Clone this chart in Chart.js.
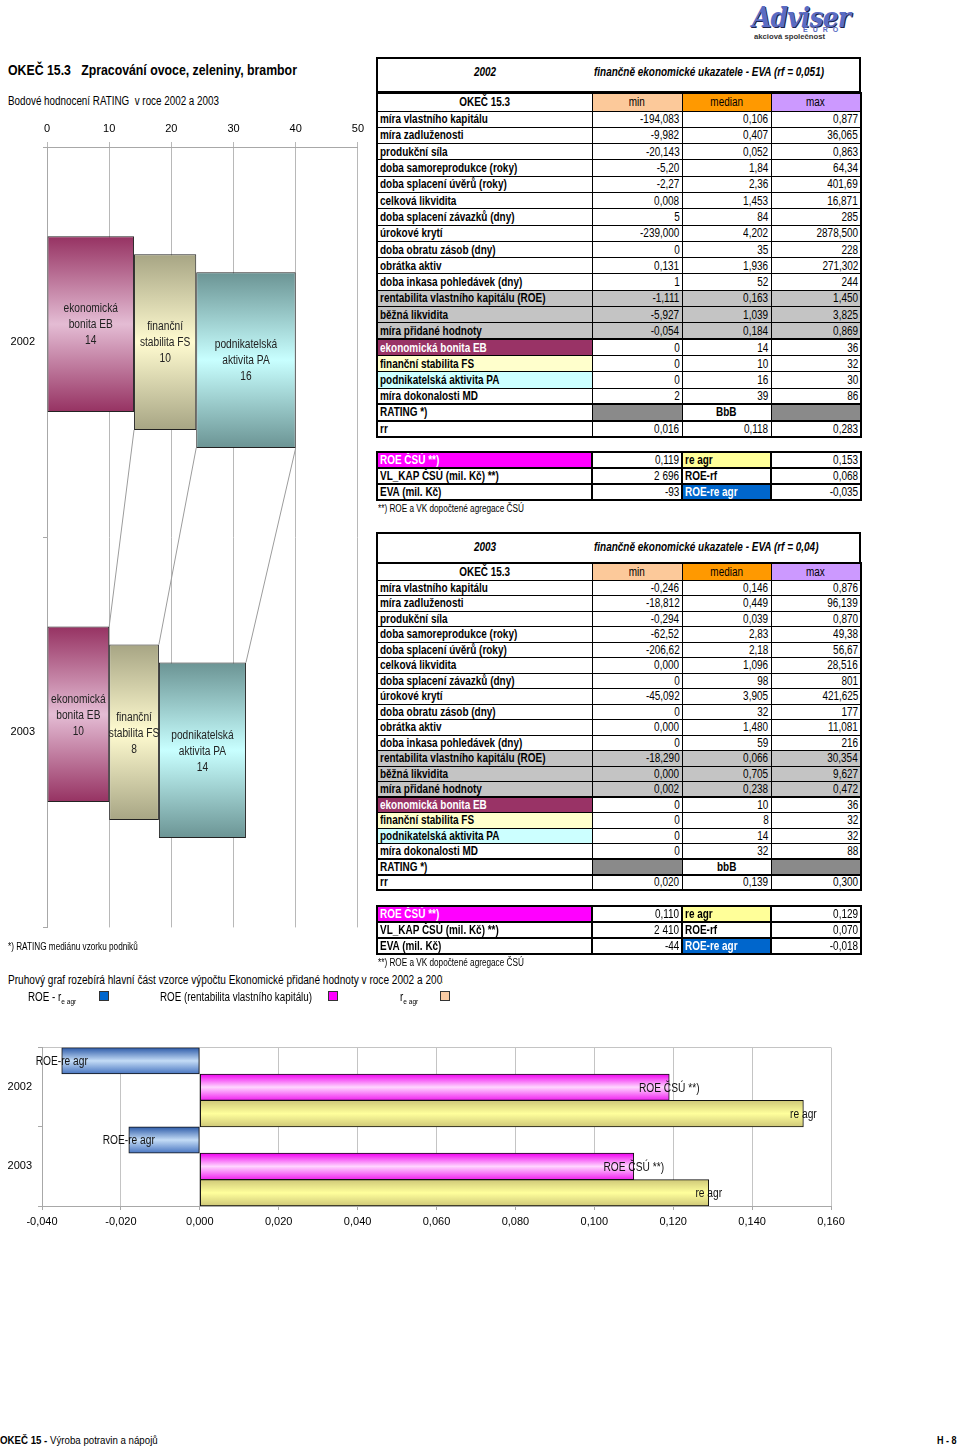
<!DOCTYPE html>
<html lang="cs">
<head>
<meta charset="utf-8">
<script src="https://cdn.jsdelivr.net/npm/chart.js@4.4.1/dist/chart.umd.min.js"></script>
<style>
body{margin:0;background:#fff;}
#page{position:relative;width:960px;height:1448px;overflow:hidden;font-family:"Liberation Sans Narrow","Arial Narrow","Liberation Sans",Arial,sans-serif;color:#000;}
.abs{position:absolute;white-space:nowrap;line-height:1;transform:scaleX(.82);transform-origin:0 0;}
canvas{position:absolute;}
table{position:absolute;border-collapse:collapse;table-layout:fixed;border:2px solid #000;}
td{border:1px solid #000;padding:0 2px;font-size:12px;overflow:hidden;white-space:nowrap;line-height:1;}
td .n{display:inline-block;transform:scaleX(.83);}
td.l{font-weight:bold;text-align:left;}
td.l .n{transform-origin:0 50%;}
td.v{text-align:right;}
td.v .n{transform-origin:100% 50%;}
td.c{text-align:center;}
td.c .n{transform-origin:50% 50%;}
tr.tk td{border-top:2px solid #000;}
tr.g td{background:#c4c4c4;}
.small td{border:2px solid #000;}
.hbox{position:absolute;border:2px solid #000;box-sizing:border-box;}
.hbox span{position:absolute;font-weight:bold;font-style:italic;font-size:12px;top:6px;white-space:nowrap;transform:scaleX(.83);transform-origin:0 0;}
.sq{position:absolute;width:8px;height:8px;border:1px solid #333;}
</style>
</head>
<body>
<div id="page">
  <div class="abs" style="left:752px;top:2px;font:italic bold 27px 'DejaVu Serif',serif;color:#5a6cc4;letter-spacing:-1px;text-shadow:1px 1px 0 #1c2450;transform:scaleX(.93);">Adviser</div>
  <div class="abs" style="left:803px;top:26px;font:bold 7px Arial,sans-serif;color:#5a6cc4;letter-spacing:5px;transform:none;">EURO</div>
  <div class="abs" style="left:754px;top:33px;font:bold 7px Arial,sans-serif;color:#333;transform:scaleX(1.1);">akciová společnost</div>

  <div class="abs" style="left:8px;top:62px;font-size:15px;font-weight:bold;">OKEČ 15.3&nbsp;&nbsp;&nbsp;Zpracování ovoce, zeleniny, brambor</div>
  <div class="abs" style="left:8px;top:95px;font-size:12px;">Bodové hodnocení RATING&nbsp; v roce 2002 a 2003</div>

  <canvas id="ratingChart" width="370" height="830" style="left:0;top:112px;"></canvas>

  <div class="abs" style="left:8px;top:942px;font-size:10px;">*) RATING mediánu vzorku podniků</div>
  <div style="position:absolute;left:8px;top:974px;width:435px;height:15px;overflow:hidden;">
    <div class="abs" style="left:0;top:0;font-size:12px;transform:scaleX(.84);">Pruhový graf rozebírá hlavní část vzorce výpočtu Ekonomické přidané hodnoty v roce 2002 a 2003</div>
  </div>
  <div class="abs" style="left:28px;top:991px;font-size:12px;">ROE - r<sub style="font-size:8px;">e agr</sub></div>
  <div class="sq" style="left:99px;top:991px;background:#0066cc;"></div>
  <div class="abs" style="left:160px;top:991px;font-size:12px;">ROE (rentabilita vlastního kapitálu)</div>
  <div class="sq" style="left:328px;top:991px;background:#ff00ff;"></div>
  <div class="abs" style="left:400px;top:991px;font-size:12px;">r<sub style="font-size:8px;">e agr</sub></div>
  <div class="sq" style="left:440px;top:991px;background:#f9cba4;"></div>

  <canvas id="evaChart" width="860" height="200" style="left:0;top:1035px;"></canvas>

  <div class="abs" style="left:0;top:1435px;font-size:11px;transform:scaleX(.88);"><b>OKEČ 15 -</b> Výroba potravin a nápojů</div>
  <div class="abs" style="left:937px;top:1435px;font-size:11px;font-weight:bold;">H - 8</div>
</div>

<script>
// hodnoty grafu RATING
const years = ['2002', '2003'];
const ratingParts = [['ekonomická', 'bonita EB'], ['finanční', 'stabilita FS'], ['podnikatelská', 'aktivita PA']];
const ratingEB = [14, 10];
const ratingFS = [10, 8];
const ratingPA = [16, 14];
const ratingMin = 0, ratingMax = 50, ratingStep = 10;

// hodnoty pruhoveho grafu EVA
const evaSeries = ['ROE-re agr', 'ROE ČSÚ **)', 're agr'];
const roeMinusRe = [-0.035, -0.018];
const roeCsu = [0.119, 0.110];
const reAgr = [0.153, 0.129];
const evaMin = -0.04, evaMax = 0.16, evaStep = 0.02;

// tabulky
const rowLabels = ['míra vlastního kapitálu', 'míra zadluženosti', 'produkční síla', 'doba samoreprodukce (roky)',
  'doba splacení úvěrů (roky)', 'celková likvidita', 'doba splacení závazků (dny)', 'úrokové krytí',
  'doba obratu zásob (dny)', 'obrátka aktiv', 'doba inkasa pohledávek (dny)', 'rentabilita vlastního kapitálu (ROE)',
  'běžná likvidita', 'míra přidané hodnoty', 'ekonomická bonita EB', 'finanční stabilita FS',
  'podnikatelská aktivita PA', 'míra dokonalosti MD', 'RATING *)', 'rr'];
const min2002 = ['-194,083', '-9,982', '-20,143', '-5,20', '-2,27', '0,008', '5', '-239,000', '0', '0,131', '1',
  '-1,111', '-5,927', '-0,054', '0', '0', '0', '2', '', '0,016'];
const med2002 = ['0,106', '0,407', '0,052', '1,84', '2,36', '1,453', '84', '4,202', '35', '1,936', '52',
  '0,163', '1,039', '0,184', '14', '10', '16', '39', 'BbB', '0,118'];
const max2002 = ['0,877', '36,065', '0,863', '64,34', '401,69', '16,871', '285', '2878,500', '228', '271,302', '244',
  '1,450', '3,825', '0,869', '36', '32', '30', '86', '', '0,283'];
const min2003 = ['-0,246', '-18,812', '-0,294', '-62,52', '-206,62', '0,000', '0', '-45,092', '0', '0,000', '0',
  '-18,290', '0,000', '0,002', '0', '0', '0', '0', '', '0,020'];
const med2003 = ['0,146', '0,449', '0,039', '2,83', '2,18', '1,096', '98', '3,905', '32', '1,480', '59',
  '0,066', '0,705', '0,238', '10', '8', '14', '32', 'bbB', '0,139'];
const max2003 = ['0,876', '96,139', '0,870', '49,38', '56,67', '28,516', '801', '421,625', '177', '11,081', '216',
  '30,354', '9,627', '0,472', '36', '32', '32', '88', '', '0,300'];
const small2002 = ['0,119', '0,153', '2 696', '0,068', '-93', '-0,035'];
const small2003 = ['0,110', '0,129', '2 410', '0,070', '-44', '-0,018'];

const page = document.getElementById('page');
const colW = [215, 90, 89, 90];

function colgroup() {
  return '<colgroup>' + colW.map(w => `<col style="width:${w}px">`).join('') + '</colgroup>';
}
const n = s => `<span class="n">${s}</span>`;

function buildBlock(o) {
  const box = document.createElement('div');
  box.className = 'hbox';
  box.style.cssText = `left:376px;top:${o.boxTop}px;width:485px;height:${o.boxH}px;`;
  box.innerHTML = `<span style="left:96px;">${o.year}</span><span style="left:216px;">${o.title}</span>`;
  page.appendChild(box);

  let h = `<table style="left:376px;top:${o.top}px;width:485px;">` + colgroup();
  h += `<tr style="height:${o.headH}px"><td class="l c">${n('OKEČ 15.3')}</td><td class="c" style="background:#fcc99a">${n('min')}</td>` +
    `<td class="c" style="background:#ff9900">${n('median')}</td><td class="c" style="background:#cc99ff">${n('max')}</td></tr>`;
  rowLabels.forEach((lab, i) => {
    let cls = '';
    if (i >= 11 && i <= 13) cls = 'g';
    if (i === 14 || i === 18 || i === 19) cls += ' tk';
    let ls = '';
    if (i === 14) ls = 'background:#993366;color:#fff;';
    if (i === 15) ls = 'background:#ffffcc;';
    if (i === 16) ls = 'background:#ccffff;';
    if (i === 18) {
      h += `<tr class="${cls}" style="height:${o.rowH}px"><td class="l">${n(lab)}</td><td style="background:#8a8a8a"></td>` +
        `<td class="c" style="font-weight:bold">${n(o.med[i])}</td><td style="background:#8a8a8a"></td></tr>`;
    } else {
      h += `<tr class="${cls}" style="height:${o.rowH}px"><td class="l" style="${ls}">${n(lab)}</td>` +
        `<td class="v">${n(o.min[i])}</td><td class="v">${n(o.med[i])}</td><td class="v">${n(o.max[i])}</td></tr>`;
    }
  });
  h += '</table>';

  const s = o.small;
  h += `<table class="small" style="left:376px;top:${o.smallTop}px;width:485px;">` + colgroup() +
    `<tr style="height:16px"><td class="l" style="background:#ff00ff;color:#fff">${n('ROE ČSÚ **)')}</td><td class="v">${n(s[0])}</td>` +
    `<td class="l" style="background:#ffff99">${n('re agr')}</td><td class="v">${n(s[1])}</td></tr>` +
    `<tr style="height:16px"><td class="l">${n('VL_KAP ČSÚ (mil. Kč) **)')}</td><td class="v">${n(s[2])}</td>` +
    `<td class="l">${n('ROE-rf')}</td><td class="v">${n(s[3])}</td></tr>` +
    `<tr style="height:16px"><td class="l">${n('EVA (mil. Kč)')}</td><td class="v">${n(s[4])}</td>` +
    `<td class="l" style="background:#0066cc;color:#fff">${n('ROE-re agr')}</td><td class="v">${n(s[5])}</td></tr></table>`;
  h += `<div class="abs" style="left:378px;top:${o.smallTop + 53}px;font-size:10px;">**) ROE a VK dopočtené agregace ČSÚ</div>`;
  page.insertAdjacentHTML('beforeend', h);
}

buildBlock({ boxTop: 57, boxH: 36, top: 92, headH: 18, rowH: 16.3, year: '2002',
  title: 'finančně ekonomické ukazatele - EVA (rf = 0,051)', min: min2002, med: med2002, max: max2002,
  small: small2002, smallTop: 451 });
buildBlock({ boxTop: 532, boxH: 32, top: 562, headH: 17, rowH: 15.5, year: '2003',
  title: 'finančně ekonomické ukazatele - EVA (rf = 0,04)', min: min2003, med: med2003, max: max2003,
  small: small2003, smallTop: 905 });

// prechod barvy pres vysku pruhu (tmavy okraj, svetly stred)
function grad(c, stops, top, bottom) {
  const g = c.chart.ctx.createLinearGradient(0, top, 0, bottom);
  g.addColorStop(0, stops[0]);
  g.addColorStop(0.5, stops[1]);
  g.addColorStop(1, stops[2]);
  return g;
}

// uzsi text na platne (puvodni pismo je Arial Narrow)
function narrowText(ctx, t, x, y) {
  ctx.save();
  ctx.translate(x, y);
  ctx.scale(0.85, 1);
  ctx.fillText(t, 0, 0);
  ctx.restore();
}

// RATING - skladany pruh, kazda cast posunuta dolu (3D dojem)
const depth = [-18, 0, 18];
const ratingThick = 0.45;
function ratingFill(stops) {
  return c => {
    const area = c.chart.chartArea;
    if (!area || c.type !== 'data') return stops[1];
    const band = (area.bottom - area.top) / years.length;
    const mid = c.chart.scales.y.getPixelForValue(c.dataIndex);
    return grad(c, stops, mid - band * ratingThick / 2, mid + band * ratingThick / 2);
  };
}

const ratingDecor = {
  id: 'ratingDecor',
  beforeDatasetsDraw(chart) {
    const ctx = chart.ctx;
    ctx.save();
    ctx.strokeStyle = '#9c9c9c';
    ctx.lineWidth = 1;
    for (let d = 0; d < 3; d++) {
      const a = chart.getDatasetMeta(Math.min(d + 1, 2)).data[0];
      const own = chart.getDatasetMeta(d).data;
      const b = own[1];
      ctx.beginPath();
      ctx.moveTo(own[0].x, a.y + a.height / 2 + depth[Math.min(d + 1, 2)]);
      ctx.lineTo(b.x, b.y - b.height / 2 + depth[d]);
      ctx.stroke();
    }
    ctx.restore();
  },
  beforeDatasetDraw(chart, args) {
    chart.ctx.save();
    chart.ctx.translate(0, depth[args.index]);
  },
  afterDatasetDraw(chart) {
    chart.ctx.restore();
  },
  afterDatasetsDraw(chart) {
    const ctx = chart.ctx;
    ctx.save();
    ctx.fillStyle = '#222';
    ctx.font = '12px "Liberation Sans", Arial, sans-serif';
    ctx.textAlign = 'center';
    ctx.textBaseline = 'middle';
    chart.data.datasets.forEach((ds, d) => {
      chart.getDatasetMeta(d).data.forEach((el, i) => {
        const lines = ratingParts[d].concat(String(ds.data[i]));
        const cx = (el.x + el.base) / 2;
        const cy = el.y + depth[d] + 1;
        lines.forEach((t, k) => narrowText(ctx, t, cx, cy + (k - (lines.length - 1) / 2) * 16));
      });
    });
    ctx.restore();
  }
};

const axisFont = { family: '"Liberation Sans", Arial, sans-serif', size: 11 };

new Chart(document.getElementById('ratingChart'), {
  type: 'bar',
  data: {
    labels: years,
    datasets: [
      { label: 'ekonomická bonita EB', data: ratingEB, backgroundColor: ratingFill(['#963262', '#e4bcd4', '#963262']) },
      { label: 'finanční stabilita FS', data: ratingFS, backgroundColor: ratingFill(['#a7a584', '#fffbd0', '#a7a584']) },
      { label: 'podnikatelská aktivita PA', data: ratingPA, backgroundColor: ratingFill(['#6b9494', '#c8ffff', '#6b9494']) }
    ]
  },
  options: {
    indexAxis: 'y',
    responsive: false,
    animation: false,
    layout: { padding: { left: 0, right: 11, top: 0, bottom: 8 } },
    datasets: { bar: { categoryPercentage: 0.9, barPercentage: 0.5, borderColor: '#222', borderWidth: 1, borderSkipped: false } },
    plugins: { legend: { display: false }, tooltip: { enabled: false } },
    scales: {
      x: {
        position: 'top', stacked: true, min: ratingMin, max: ratingMax,
        ticks: { stepSize: ratingStep, color: '#000', font: axisFont, padding: 6 },
        grid: { color: '#b8b8b8', tickLength: 5 },
        border: { color: '#a8a8a8' },
        afterFit: s => { s.height = 35; }
      },
      y: {
        stacked: true,
        ticks: { color: '#000', font: axisFont, padding: 8 },
        grid: { color: c => c.index === years.length ? '#a8a8a8' : 'transparent', tickColor: '#a8a8a8', tickLength: 4 },
        border: { color: '#a8a8a8' },
        afterFit: s => { s.width = 47; }
      }
    }
  },
  plugins: [ratingDecor]
});

// EVA - seskupene vodorovne pruhy
function evaFill(stops) {
  return c => {
    const area = c.chart.chartArea;
    if (!area || c.type !== 'data') return stops[1];
    const band = (area.bottom - area.top) / years.length;
    const top = c.chart.scales.y.getPixelForValue(c.dataIndex) - band / 2 + c.datasetIndex * band / 3;
    return grad(c, stops, top, top + band / 3);
  };
}

const evaLabels = {
  id: 'evaLabels',
  afterDatasetsDraw(chart) {
    const ctx = chart.ctx;
    ctx.save();
    ctx.fillStyle = '#111';
    ctx.font = '12px "Liberation Sans", Arial, sans-serif';
    ctx.textAlign = 'center';
    ctx.textBaseline = 'middle';
    chart.data.datasets.forEach((ds, d) => {
      chart.getDatasetMeta(d).data.forEach(el => narrowText(ctx, evaSeries[d], el.x, el.y + 1));
    });
    ctx.restore();
  }
};

function comma(v) {
  let r = Math.round(v * 1000) / 1000;
  if (Math.abs(r) < 1e-9) r = 0;
  return r.toFixed(3).replace('.', ',');
}

new Chart(document.getElementById('evaChart'), {
  type: 'bar',
  data: {
    labels: years,
    datasets: [
      { label: evaSeries[0], data: roeMinusRe, backgroundColor: evaFill(['#2c5aa8', '#c4dcf6', '#4774c0']) },
      { label: evaSeries[1], data: roeCsu, backgroundColor: evaFill(['#f000f0', '#ffd6ff', '#f020f0']) },
      { label: evaSeries[2], data: reAgr, backgroundColor: evaFill(['#cfc878', '#ffff9c', '#cfc878']) }
    ]
  },
  options: {
    indexAxis: 'y',
    responsive: false,
    animation: false,
    layout: { padding: { left: 0, right: 29, top: 12, bottom: 0 } },
    datasets: { bar: { categoryPercentage: 1, barPercentage: 1, borderColor: '#111', borderWidth: 1, borderSkipped: false } },
    plugins: { legend: { display: false }, tooltip: { enabled: false } },
    scales: {
      x: {
        min: evaMin, max: evaMax,
        ticks: { stepSize: evaStep, color: '#000', font: axisFont, padding: 5, callback: v => comma(v) },
        grid: { color: '#c4c4c4', tickColor: '#a8a8a8', tickLength: 4 },
        border: { color: '#a8a8a8' },
        afterFit: s => { s.height = 29; }
      },
      y: {
        ticks: { color: '#000', font: axisFont, padding: 6 },
        grid: { color: c => c.index === 0 ? '#c4c4c4' : 'transparent', tickColor: '#a8a8a8', tickLength: 4 },
        border: { color: '#a8a8a8' },
        afterFit: s => { s.width = 42; }
      }
    }
  },
  plugins: [evaLabels]
});
</script>
</body>
</html>
